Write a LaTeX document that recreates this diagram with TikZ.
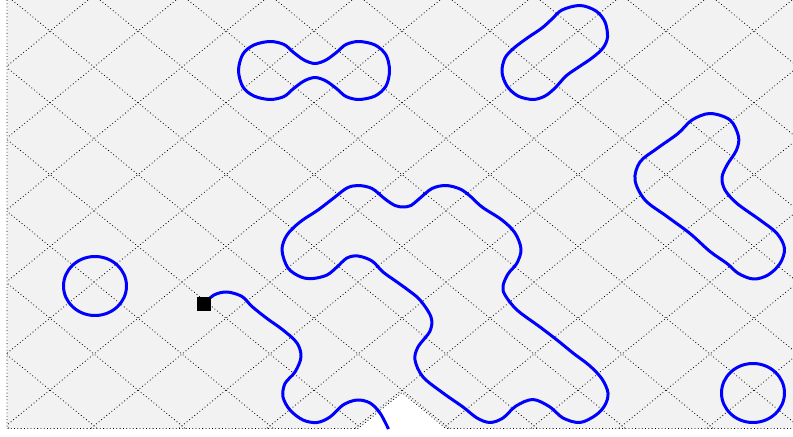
\documentclass[tikz,border=0pt]{standalone}
\usepackage{xcolor}
\usepackage{tikz}

\definecolor{boardgray}{RGB}{242,242,242}

\begin{document}
\begin{tikzpicture}[x=1bp, y=-1bp,
    gridline/.style={black, line width=0.8bp, dash pattern=on 0.8bp off 2.5bp},
    loopline/.style={blue, line width=3bp, line join=round},
    smoothloop/.style={smooth cycle, tension=0.55}]
    \useasboundingbox (0,0) rectangle (793,437);

    % Board with the notch at the bottom
    \fill[boardgray] (7,0) -- (793,0) -- (793,428.5) -- (446,428.5) -- (402,392.5)
        -- (358,428.5) -- (7,428.5) -- cycle;

    % Diagonal lattice
    \begin{scope}
        \clip (7,0) -- (793,0) -- (793,428.5) -- (446,428.5) -- (402,392.5)
            -- (358,428.5) -- (7,428.5) -- cycle;
        \foreach \k in {-6,...,15} {
            \pgfmathsetmacro{\xa}{9.55+88*\k}
            \pgfmathsetmacro{\xb}{90.45+88*\k}
            \draw[gridline] (\xa,-2) -- ++(541.8,442);
            \draw[gridline] (\xb,-2) -- ++(-541.8,442);
        }
    \end{scope}

    % Border
    \draw[gridline] (7,0) -- (7,428.5) -- (358,428.5) -- (402,392.5) -- (446,428.5) -- (793,428.5);

    % Single rings
    \draw[loopline] (95,286) ellipse [x radius=31.5, y radius=29.5];
    \draw[loopline] (753,393) ellipse [x radius=31.5, y radius=29.5];

    % Twin ring
    \draw[loopline] plot[smoothloop] coordinates {
        (238.5,70.5) (243,54) (254,45) (270,41.5) (284,44.5) (293,52) (304,60)
        (315,63.5) (326,60) (337,52) (346,44.5) (359,41.5) (375,45) (386,55)
        (389.5,70.5) (386,86) (375,96) (359,99.5) (346,96.5) (337,89) (326,81)
        (315,77.5) (304,81) (293,89) (284,96.5) (270,99.5) (254,96) (243,87)};

    % Slanted ring
    \draw[loopline] plot[smoothloop] coordinates {
        (562,10) (580,5.5) (596,11) (605,22) (607.5,37) (603,48) (592,58)
        (578,67.5) (566,76) (555,88) (545,96) (533,99.5) (518,96) (507,86)
        (502,72) (505,58) (514,48) (528,37.5) (542,28) (552,19)};

    % Bent ring
    \draw[loopline] plot[smoothloop] coordinates {
        (710,113.5) (730,120) (738.5,136.5) (736.5,150) (727,165) (722,177.5)
        (725,190) (737,203.5) (760,220) (777,233.5) (784.5,248.5) (780,263.5)
        (768,275) (753.5,279) (738.5,273.5) (727,263.5) (710,251.5) (690,233.5)
        (667,216.5) (645,200) (635,180) (640,162) (657,148.5) (678,133.5)
        (692,120)};

    % Large ring
    \draw[loopline] plot[smoothloop] coordinates {
        (282,250) (287,235) (300,222) (318,210) (335,197) (347,188) (358,185.5)
        (372,188.5) (385,199) (395,205.5) (403,207) (411,205.5) (419,199)
        (432,188.5) (446,185.5) (460,189) (470,196) (482,207) (502,220)
        (515,233) (521,249) (517,263) (508,274) (503,286) (505,295) (517,310)
        (540,327) (557,340) (573,353) (590,366) (602,379) (608,393) (605,405)
        (596,415) (580,422.5) (563,418) (550,407) (533,399.5) (516,406)
        (503,418) (490,422.5) (477,418) (463,407) (443,393) (423,377) (415,360)
        (418,347) (430,331) (431,317) (420,300) (408,290) (397,282) (383,272)
        (372,261) (358,256) (347,258) (337,267) (327,275) (313,278.5)
        (301,277) (288,268)};

    % Open path from the start square
    \coordinate (start) at (204,304);
    \draw[loopline] plot[smooth, tension=0.55] coordinates {
        (start) (214,295) (227,292) (242,296.5) (252,306.5) (267,318.5)
        (283,330) (297,343) (301,357) (295,372) (285,383.5) (283,397)
        (290,410) (303,420) (317,422.5) (330,417) (343,405) (357,400)
        (370,403) (380,413) (388.5,429)};
    \node[fill=black, minimum size=14bp, inner sep=0pt] (startsq) at (start) {};
\end{tikzpicture}
\end{document}
